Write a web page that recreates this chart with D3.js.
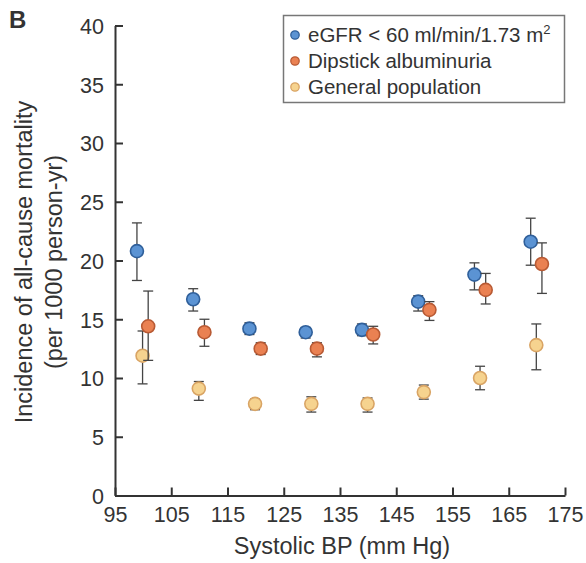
<!DOCTYPE html>
<html>
<head>
<meta charset="utf-8">
<script src="https://cdn.jsdelivr.net/npm/d3@7"></script>
<style>
  body { margin: 0; background: #fff; }
  text { font-family: "Liberation Sans", Arial, sans-serif; fill: #333; }
</style>
</head>
<body>
<div id="chart"></div>
<script>
// systolic BP groups (centre of each band)
var bpGroups = [100, 110, 120, 130, 140, 150, 160, 170];
var xTicks = [95, 105, 115, 125, 135, 145, 155, 165, 175];
var yTicks = [0, 5, 10, 15, 20, 25, 30, 35, 40];

// incidence per 1000 person-yr, with lower / upper CI
var egfrVal   = [20.8, 16.7, 14.2, 13.9, 14.1, 16.5, 18.8, 21.6];
var egfrLo    = [18.3, 15.7, 13.7, 13.4, 13.6, 15.7, 17.5, 19.6];
var egfrHi    = [23.2, 17.6, 14.7, 14.3, 14.6, 17.0, 19.8, 23.6];

var albVal    = [14.4, 13.9, 12.5, 12.5, 13.7, 15.8, 17.5, 19.7];
var albLo     = [11.5, 12.7, 12.0, 11.8, 12.9, 14.9, 16.3, 17.2];
var albHi     = [17.4, 15.0, 13.0, 13.0, 14.4, 16.5, 18.9, 21.5];

var genVal    = [11.9, 9.1, 7.8, 7.8, 7.8, 8.8, 10.0, 12.8];
var genLo     = [9.5, 8.1, 7.3, 7.1, 7.1, 8.2, 9.0, 10.7];
var genHi     = [14.0, 9.7, 8.2, 8.4, 8.3, 9.4, 11.0, 14.6];

var seriesNames = ["eGFR < 60 ml/min/1.73 m", "Dipstick albuminuria", "General population"];

var W = 586, H = 563;
var svg = d3.select("#chart").append("svg")
  .attr("width", W).attr("height", H);

var x = d3.scaleLinear().domain([95, 175]).range([115, 565]);
var y = d3.scaleLinear().domain([0, 40]).range([495.5, 25.5]);

// axes (inner ticks)
var axisColor = "#333";
var xAxis = svg.append("g")
  .attr("transform", "translate(0," + y(0) + ")")
  .call(d3.axisBottom(x).tickValues(xTicks).tickSizeInner(-8).tickSizeOuter(0).tickPadding(11));
var yAxis = svg.append("g")
  .attr("transform", "translate(" + x(95) + ",0)")
  .call(d3.axisLeft(y).tickValues(yTicks).tickSizeInner(-8).tickSizeOuter(0).tickPadding(11));

[xAxis, yAxis].forEach(function(a) {
  a.select(".domain").attr("stroke", axisColor).attr("stroke-width", 2);
  a.selectAll(".tick line").attr("stroke", axisColor).attr("stroke-width", 2);
  a.selectAll(".tick text")
    .style("font-family", '"Liberation Sans", Arial, sans-serif')
    .style("font-size", "21.5px")
    .attr("fill", "#333");
});
yAxis.selectAll(".tick text").attr("dy", "0.36em");

// axis titles
svg.append("text")
  .attr("x", 342).attr("y", 554)
  .attr("text-anchor", "middle")
  .style("font-size", "23.5px")
  .text("Systolic BP (mm Hg)");

svg.append("text")
  .attr("transform", "translate(32,262) rotate(-90)")
  .attr("text-anchor", "middle")
  .style("font-size", "23.5px")
  .text("Incidence of all-cause mortality");
svg.append("text")
  .attr("transform", "translate(62,262) rotate(-90)")
  .attr("text-anchor", "middle")
  .style("font-size", "23.5px")
  .text("(per 1000 person-yr)");

// panel letter
svg.append("text")
  .attr("x", 9).attr("y", 28)
  .style("font-size", "24px").style("font-weight", "bold")
  .attr("fill", "#222")
  .text("B");

// series
var series = [
  { vals: egfrVal, lo: egfrLo, hi: egfrHi, shift: -1.1, fill: "#5b93d3", stroke: "#2f5f9a" },
  { vals: albVal,  lo: albLo,  hi: albHi,  shift: 0.9,  fill: "#ea8152", stroke: "#b85a34" },
  { vals: genVal,  lo: genLo,  hi: genHi,  shift: -0.1, fill: "#f6d38f", stroke: "#d9a464" }
];
var drawOrder = [2, 0, 1];

drawOrder.forEach(function(si) {
  var s = series[si];
  var g = svg.append("g");
  var rows = bpGroups.map(function(b, i) {
    return { bp: b + s.shift, v: s.vals[i], lo: s.lo[i], hi: s.hi[i] };
  });
  var eb = g.selectAll(".eb").data(rows).enter().append("g");
  eb.append("line")
    .attr("x1", function(d) { return x(d.bp); })
    .attr("x2", function(d) { return x(d.bp); })
    .attr("y1", function(d) { return y(d.lo); })
    .attr("y2", function(d) { return y(d.hi); })
    .attr("stroke", "#444").attr("stroke-width", 1.3);
  ["lo", "hi"].forEach(function(k) {
    eb.append("line")
      .attr("x1", function(d) { return x(d.bp) - 5; })
      .attr("x2", function(d) { return x(d.bp) + 5; })
      .attr("y1", function(d) { return y(d[k]); })
      .attr("y2", function(d) { return y(d[k]); })
      .attr("stroke", "#444").attr("stroke-width", 1.3);
  });
  g.selectAll("circle").data(rows).enter().append("circle")
    .attr("cx", function(d) { return x(d.bp); })
    .attr("cy", function(d) { return y(d.v); })
    .attr("r", 6.5)
    .attr("fill", s.fill)
    .attr("stroke", s.stroke)
    .attr("stroke-width", 1.6);
});

// legend
var lg = svg.append("g");
lg.append("rect")
  .attr("x", 283.5).attr("y", 15.5).attr("width", 281).attr("height", 87)
  .attr("fill", "#fff").attr("stroke", "#777").attr("stroke-width", 1.5);
series.forEach(function(s, i) {
  var yy = 35 + i * 26;
  lg.append("circle")
    .attr("cx", 295).attr("cy", yy).attr("r", 4.2)
    .attr("fill", s.fill).attr("stroke", s.stroke).attr("stroke-width", 1.3);
  var t = lg.append("text")
    .attr("x", 308).attr("y", yy + 7)
    .style("font-size", "20.5px")
    .text(seriesNames[i]);
  if (i === 0) {
    t.append("tspan").attr("dy", -8).style("font-size", "13px").text("2");
  }
});
</script>
</body>
</html>
